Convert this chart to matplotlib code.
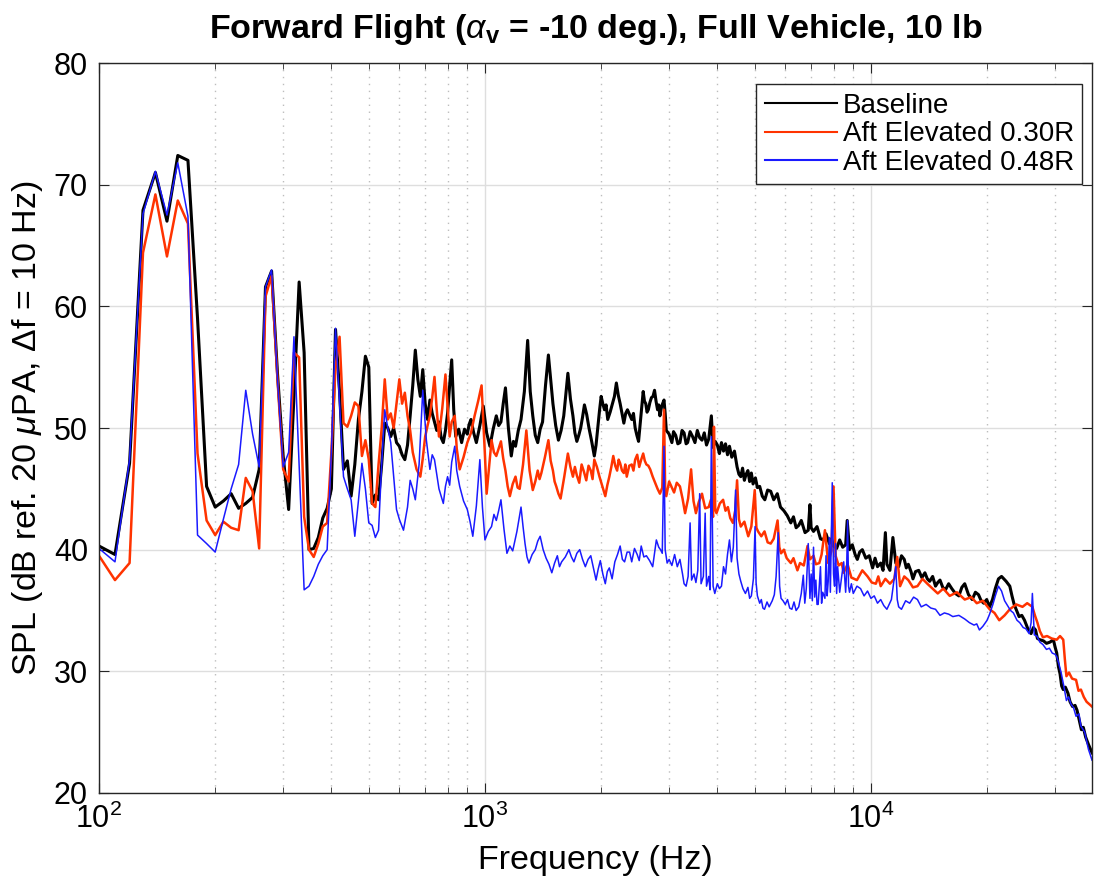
import numpy as np
import matplotlib as mpl
import matplotlib.pyplot as plt

mpl.rcParams['font.family'] = 'Liberation Sans'
mpl.rcParams['mathtext.fontset'] = 'custom'
mpl.rcParams['mathtext.rm'] = 'Liberation Sans'
mpl.rcParams['mathtext.it'] = 'Liberation Sans:italic'
mpl.rcParams['mathtext.bf'] = 'Liberation Sans:bold'
mpl.rcParams['axes.linewidth'] = 1.0

# narrowband spectra, (frequency Hz, SPL dB)
baseline = [
    (100, 40.3), (110, 39.6), (120, 47.1), (130, 67.9), (140, 71.0), (150, 67.0),
    (160, 72.4), (170, 72.0), (180, 59.0), (190, 45.2), (200, 43.5), (210, 44.0),
    (220, 44.6), (230, 43.4), (240, 43.8), (250, 44.3), (260, 46.6), (270, 61.6),
    (280, 62.9), (290, 54.5), (300, 47.7), (310, 43.3), (320, 52.6), (330, 62.0),
    (340, 56.2), (350, 40.0), (360, 40.1), (370, 41.0), (380, 42.6), (390, 43.4),
    (400, 45.0), (410, 58.1), (420, 53.0), (430, 46.6), (440, 47.3), (450, 44.4),
    (460, 47.0), (470, 50.7), (480, 53.0), (490, 55.9), (500, 55.0), (510, 43.8),
    (520, 44.5), (530, 44.1), (540, 47.0), (550, 50.4), (560, 50.0), (570, 49.3),
    (580, 50.0), (590, 48.8), (600, 48.5), (610, 47.8), (620, 47.4), (630, 48.6),
    (640, 51.0), (650, 53.5), (660, 56.4), (670, 54.0), (680, 52.6), (690, 54.8),
    (700, 52.0), (710, 50.7), (720, 52.3), (730, 51.2), (740, 50.5), (750, 49.8),
    (760, 50.5), (770, 49.2), (780, 48.8), (790, 49.8), (800, 51.2), (810, 53.5),
    (820, 55.6), (830, 51.5), (840, 49.3), (855, 49.9), (870, 48.8), (885, 49.9),
    (900, 49.5), (910, 50.3), (920, 50.7), (935, 49.6), (950, 48.8), (970, 50.2),
    (990, 51.8), (1010, 49.6), (1030, 48.5), (1050, 49.9), (1070, 51.0), (1085, 50.2),
    (1100, 50.5), (1115, 52.0), (1130, 53.3), (1150, 50.0), (1170, 47.7), (1185, 48.9),
    (1200, 48.5), (1220, 49.8), (1240, 50.7), (1265, 53.0), (1290, 57.2), (1310, 53.0),
    (1330, 51.0), (1350, 49.4), (1370, 48.8), (1390, 49.9), (1410, 50.5), (1435, 53.5),
    (1460, 56.0), (1480, 54.0), (1500, 52.0), (1525, 50.2), (1550, 49.0), (1575, 49.8),
    (1600, 51.0), (1620, 52.8), (1640, 54.5), (1665, 52.4), (1690, 51.0), (1710, 49.6),
    (1730, 48.9), (1750, 49.4), (1770, 50.0), (1790, 50.9), (1810, 51.9), (1835, 51.1),
    (1860, 50.0), (1890, 48.9), (1920, 47.7), (1940, 48.6), (1960, 50.0), (1980, 51.4),
    (2000, 52.6), (2020, 52.0), (2040, 51.5), (2060, 51.9), (2080, 50.7), (2110, 51.3),
    (2140, 52.0), (2165, 52.6), (2190, 53.7), (2215, 52.7), (2240, 52.0), (2265, 51.2),
    (2290, 50.4), (2315, 51.2), (2340, 51.5), (2370, 51.1), (2400, 50.7), (2425, 51.2),
    (2450, 50.0), (2475, 49.4), (2500, 48.9), (2535, 51.0), (2570, 53.0), (2590, 52.2),
    (2610, 52.0), (2630, 51.3), (2650, 51.5), (2675, 52.1), (2700, 52.5), (2725, 52.6),
    (2750, 53.1), (2775, 52.2), (2800, 51.5), (2820, 51.9), (2840, 51.0), (2870, 51.8),
    (2910, 52.3), (2930, 51.2), (2950, 49.8), (3000, 49.5), (3050, 48.8), (3080, 49.7),
    (3120, 49.4), (3160, 48.7), (3200, 48.8), (3240, 49.8), (3280, 49.6), (3320, 48.7),
    (3350, 48.8), (3400, 49.7), (3450, 49.3), (3500, 48.8), (3550, 49.8), (3600, 49.2),
    (3650, 49.0), (3700, 49.6), (3750, 48.6), (3800, 49.1), (3860, 51.0), (3900, 48.4),
    (3950, 48.9), (4000, 48.6), (4050, 47.9), (4100, 48.8), (4150, 48.1), (4200, 48.7),
    (4250, 47.8), (4300, 48.5), (4360, 47.6), (4430, 48.1), (4500, 46.8), (4550, 46.2),
    (4600, 46.0), (4650, 46.7), (4700, 45.7), (4750, 46.2), (4800, 46.5), (4850, 45.6),
    (4900, 46.3), (4950, 45.4), (5020, 45.9), (5080, 45.1), (5150, 45.2), (5230, 44.4),
    (5310, 44.1), (5400, 44.9), (5500, 44.8), (5600, 44.1), (5720, 44.6), (5830, 43.5),
    (5950, 43.2), (6070, 42.8), (6200, 42.2), (6300, 42.7), (6400, 41.8), (6500, 42.0),
    (6600, 42.4), (6750, 41.4), (6880, 41.6), (6950, 43.7), (7000, 41.8), (7100, 41.5),
    (7250, 41.9), (7400, 40.9), (7520, 40.8), (7650, 41.3), (7800, 40.5), (7900, 40.9),
    (8000, 40.3), (8150, 40.1), (8300, 40.8), (8450, 40.2), (8600, 40.4), (8680, 42.4),
    (8800, 40.0), (8950, 40.4), (9100, 39.6), (9220, 39.2), (9350, 39.8), (9500, 40.0),
    (9700, 39.3), (9900, 39.5), (10100, 38.5), (10250, 39.3), (10400, 38.6), (10600, 38.9),
    (10750, 38.3), (10900, 41.4), (11000, 38.8), (11200, 38.3), (11400, 41.0), (11600, 38.9),
    (11800, 38.6), (12000, 39.5), (12200, 39.2), (12350, 38.5), (12500, 38.8), (12700, 38.2),
    (12850, 37.6), (13050, 38.2), (13300, 38.3), (13550, 37.7), (13800, 38.1), (14000, 37.6),
    (14200, 37.4), (14450, 37.8), (14700, 37.0), (14900, 37.3), (15100, 37.5), (15350, 36.9),
    (15600, 36.7), (15900, 37.2), (16200, 36.8), (16550, 36.4), (16900, 36.2), (17200, 36.9),
    (17500, 37.2), (17900, 36.3), (18300, 35.9), (18650, 36.5), (19000, 36.3), (19300, 35.8),
    (19600, 35.6), (19950, 35.9), (20300, 35.3), (20650, 35.9), (21000, 36.8), (21400, 37.6),
    (21800, 37.8), (22100, 37.6), (22400, 37.4), (22900, 37.0), (23200, 36.2), (23500, 35.5),
    (23850, 35.0), (24200, 34.5), (24600, 34.6), (25000, 34.2), (25500, 33.5), (26000, 33.1),
    (26350, 33.6), (26700, 33.4), (27000, 32.7), (27400, 32.6), (28000, 32.5), (28500, 32.3),
    (29100, 32.4), (29700, 32.6), (30000, 32.0), (30300, 31.5), (30600, 30.4), (30900, 29.8),
    (31200, 28.8), (31500, 28.5), (31900, 28.7), (32400, 28.2), (32800, 27.5), (33300, 27.1),
    (33800, 27.2), (34200, 26.8), (34600, 26.1), (35100, 25.2), (35500, 25.4), (36000, 24.6),
    (36600, 24.0), (37400, 23.3),
]

elev_030 = [
    (100, 39.5), (110, 37.5), (120, 38.9), (130, 64.4), (140, 69.2), (150, 64.1),
    (160, 68.7), (170, 66.8), (180, 47.9), (190, 42.4), (200, 41.2), (210, 42.3),
    (220, 41.8), (230, 41.6), (240, 45.9), (250, 44.8), (260, 40.1), (270, 60.8),
    (280, 62.5), (290, 54.0), (300, 46.6), (310, 45.6), (320, 56.2), (330, 55.8),
    (340, 42.7), (350, 40.0), (360, 39.4), (370, 40.5), (380, 41.9), (390, 42.2),
    (400, 48.0), (410, 55.0), (420, 57.5), (430, 50.4), (440, 50.1), (450, 51.0),
    (460, 52.1), (470, 51.8), (480, 47.7), (490, 49.0), (500, 47.4), (510, 43.8),
    (520, 43.5), (530, 47.0), (540, 50.0), (550, 54.0), (560, 50.7), (570, 51.2),
    (580, 50.0), (590, 52.0), (600, 54.0), (610, 52.0), (620, 52.9), (630, 51.0),
    (640, 49.8), (650, 48.0), (665, 46.6), (680, 46.0), (690, 47.5), (700, 49.3),
    (710, 50.2), (720, 51.0), (730, 52.5), (740, 54.2), (750, 51.5), (760, 49.3),
    (775, 51.6), (790, 54.4), (800, 51.8), (810, 49.3), (820, 50.5), (835, 51.0),
    (845, 48.3), (860, 46.6), (880, 47.6), (900, 48.8), (920, 49.6), (940, 51.0),
    (960, 52.2), (980, 53.5), (1000, 47.7), (1010, 44.6), (1025, 46.8), (1040, 49.0),
    (1055, 48.0), (1070, 47.7), (1085, 48.3), (1100, 48.9), (1115, 47.5), (1130, 46.5),
    (1145, 45.2), (1160, 44.4), (1180, 45.4), (1200, 46.0), (1215, 45.1), (1230, 45.0),
    (1255, 47.0), (1280, 49.8), (1305, 46.5), (1330, 44.9), (1350, 45.6), (1370, 46.5),
    (1385, 45.8), (1400, 46.3), (1430, 47.6), (1460, 49.0), (1480, 47.3), (1500, 46.5),
    (1515, 45.6), (1530, 45.2), (1550, 44.6), (1570, 44.2), (1605, 46.0), (1640, 47.9),
    (1665, 46.8), (1690, 46.0), (1710, 46.8), (1730, 46.1), (1755, 45.5), (1780, 47.0),
    (1805, 46.4), (1830, 45.7), (1855, 46.9), (1880, 46.5), (1900, 45.8), (1920, 47.4),
    (1950, 46.8), (1980, 46.0), (2015, 45.2), (2050, 44.4), (2075, 45.3), (2100, 46.0),
    (2125, 46.8), (2150, 47.7), (2175, 46.9), (2200, 46.5), (2220, 47.4), (2240, 47.1),
    (2265, 46.5), (2290, 46.3), (2310, 47.0), (2330, 46.0), (2365, 46.9), (2400, 47.0),
    (2425, 46.5), (2450, 47.4), (2480, 47.8), (2510, 46.8), (2540, 47.4), (2570, 47.9),
    (2595, 47.3), (2620, 47.0), (2650, 46.9), (2680, 46.6), (2720, 46.0), (2760, 45.5),
    (2800, 45.0), (2840, 44.6), (2880, 45.1), (2910, 51.5), (2930, 45.0), (2950, 44.4),
    (3000, 45.6), (3040, 45.2), (3090, 44.7), (3140, 45.5), (3200, 45.2), (3250, 44.2),
    (3300, 43.0), (3360, 44.2), (3420, 46.6), (3470, 44.0), (3520, 43.0), (3580, 43.9),
    (3650, 44.6), (3720, 43.4), (3800, 43.5), (3850, 44.1), (3900, 42.7), (3920, 50.1),
    (3950, 43.3), (3980, 43.0), (4060, 43.8), (4140, 44.1), (4200, 43.2), (4260, 43.5),
    (4320, 42.6), (4390, 42.2), (4450, 43.2), (4500, 45.7), (4550, 42.5), (4600, 41.9),
    (4700, 42.3), (4810, 41.1), (4900, 41.9), (5000, 44.9), (5050, 41.8), (5100, 41.5),
    (5200, 41.1), (5300, 41.5), (5400, 40.6), (5500, 40.5), (5600, 40.9), (5730, 42.4),
    (5790, 40.2), (5850, 39.7), (5950, 40.0), (6050, 39.3), (6200, 38.9), (6300, 39.3),
    (6450, 38.3), (6550, 38.9), (6700, 38.7), (6850, 40.3), (6950, 39.2), (7100, 39.5),
    (7200, 38.8), (7350, 38.9), (7450, 39.6), (7600, 41.6), (7750, 38.9), (7900, 39.9),
    (8000, 45.2), (8100, 39.5), (8250, 38.7), (8400, 38.9), (8500, 38.1), (8700, 38.8),
    (8900, 37.7), (9200, 37.5), (9500, 38.3), (9800, 37.8), (10050, 37.3), (10300, 37.2),
    (10450, 37.8), (10600, 37.0), (10900, 37.6), (11200, 37.2), (11500, 37.6), (11700, 39.4),
    (11900, 37.0), (12200, 37.8), (12500, 37.5), (12850, 36.9), (13200, 37.0), (13600, 37.6),
    (14000, 37.2), (14450, 36.8), (14900, 36.4), (15400, 36.8), (16000, 36.2), (16700, 36.5),
    (17500, 35.9), (18200, 36.1), (18800, 35.6), (19500, 35.8), (20300, 35.1), (20900, 34.8),
    (21500, 34.2), (22200, 34.6), (22900, 35.1), (23800, 35.5), (24700, 35.3), (25400, 35.6),
    (26200, 35.3), (26600, 34.6), (27000, 34.0), (27400, 33.3), (27900, 32.8), (28600, 32.9),
    (29400, 32.7), (30300, 32.6), (30900, 32.9), (31500, 32.6), (31800, 31.0), (32100, 29.6),
    (32600, 29.9), (33200, 29.4), (34000, 29.3), (34500, 28.4), (35000, 28.5), (35600, 27.9),
    (36200, 27.5), (37400, 27.1),
]

elev_048 = [
    (100, 40.1), (110, 39.0), (120, 47.4), (130, 67.6), (140, 71.1), (150, 67.5),
    (160, 71.8), (170, 67.4), (180, 41.2), (190, 40.5), (200, 39.8), (210, 42.5),
    (220, 45.0), (230, 47.0), (240, 53.1), (250, 49.5), (260, 46.8), (270, 61.6),
    (280, 63.0), (290, 54.0), (300, 46.8), (310, 48.0), (320, 57.5), (330, 47.0),
    (340, 36.7), (350, 37.0), (360, 37.8), (370, 38.8), (380, 39.5), (390, 40.0),
    (400, 48.0), (410, 58.2), (420, 52.0), (430, 46.0), (440, 45.0), (450, 44.1),
    (460, 41.1), (470, 44.0), (480, 47.1), (490, 45.0), (500, 42.2), (510, 42.0),
    (520, 41.0), (530, 41.6), (540, 47.0), (550, 51.5), (560, 50.0), (570, 48.8),
    (580, 46.0), (590, 43.3), (600, 42.5), (615, 41.6), (630, 43.5), (640, 45.7),
    (650, 45.0), (660, 44.1), (675, 47.0), (690, 53.1), (705, 49.0), (720, 46.6),
    (730, 47.8), (740, 47.4), (750, 46.2), (760, 45.0), (770, 44.4), (780, 43.8),
    (790, 45.2), (800, 46.0), (810, 45.3), (820, 47.2), (835, 48.5), (845, 46.5),
    (860, 45.2), (880, 44.0), (900, 43.3), (915, 42.3), (930, 41.1), (950, 43.6),
    (970, 47.4), (985, 43.5), (1000, 40.8), (1020, 41.5), (1040, 41.9), (1055, 42.9),
    (1070, 42.4), (1085, 43.2), (1100, 44.1), (1120, 41.7), (1140, 39.7), (1160, 40.3),
    (1180, 39.9), (1210, 41.5), (1240, 43.5), (1255, 41.9), (1270, 40.5), (1285, 39.4),
    (1300, 38.9), (1325, 39.6), (1350, 40.0), (1370, 40.7), (1390, 41.1), (1415, 40.0),
    (1440, 39.3), (1465, 38.8), (1490, 38.1), (1515, 38.9), (1540, 39.5), (1560, 38.6),
    (1580, 39.0), (1615, 39.4), (1650, 40.0), (1675, 39.4), (1700, 39.0), (1730, 39.7),
    (1760, 40.0), (1790, 39.2), (1820, 38.6), (1850, 39.2), (1880, 39.5), (1910, 38.5),
    (1940, 37.5), (1965, 38.4), (1990, 39.1), (2020, 38.0), (2050, 37.2), (2075, 38.2),
    (2100, 38.5), (2135, 37.6), (2170, 39.0), (2205, 39.6), (2240, 40.3), (2270, 39.2),
    (2300, 39.0), (2335, 39.8), (2370, 39.8), (2400, 39.0), (2440, 40.1), (2480, 39.6),
    (2510, 39.1), (2540, 40.3), (2580, 39.4), (2620, 39.5), (2670, 39.1), (2720, 38.6),
    (2750, 39.7), (2780, 40.8), (2820, 40.2), (2850, 40.0), (2880, 39.7), (2910, 48.5),
    (2930, 40.0), (2965, 38.9), (3000, 39.2), (3050, 38.7), (3100, 39.6), (3150, 38.6),
    (3200, 39.2), (3250, 38.0), (3280, 37.2), (3320, 37.0), (3360, 37.8), (3400, 42.2),
    (3430, 37.5), (3480, 38.0), (3520, 37.3), (3560, 38.3), (3600, 44.6), (3630, 37.2),
    (3680, 37.8), (3720, 43.0), (3750, 37.0), (3800, 37.8), (3830, 36.7), (3860, 49.3),
    (3900, 37.0), (3940, 36.4), (4000, 37.2), (4050, 36.8), (4100, 37.0), (4150, 38.6),
    (4200, 38.0), (4250, 39.6), (4300, 40.8), (4350, 39.0), (4400, 40.2), (4460, 44.9),
    (4500, 39.3), (4550, 38.0), (4600, 37.4), (4660, 36.8), (4730, 36.4), (4800, 36.9),
    (4850, 36.0), (4900, 36.2), (4960, 37.6), (5010, 41.9), (5040, 37.3), (5080, 36.2),
    (5150, 35.6), (5200, 35.9), (5250, 35.2), (5300, 35.1), (5380, 35.7), (5450, 35.3),
    (5550, 35.8), (5620, 36.3), (5680, 37.8), (5750, 41.4), (5800, 37.0), (5850, 36.0),
    (5920, 35.8), (6000, 35.5), (6080, 35.9), (6160, 35.2), (6240, 35.1), (6320, 35.7),
    (6400, 35.0), (6500, 35.3), (6600, 36.4), (6680, 37.9), (6740, 35.6), (6800, 36.8),
    (6880, 40.5), (6950, 36.0), (7000, 38.0), (7050, 35.8), (7100, 40.2), (7150, 36.1),
    (7200, 37.5), (7250, 35.5), (7300, 35.5), (7400, 38.6), (7450, 35.6), (7500, 36.5),
    (7600, 36.0), (7650, 39.5), (7700, 36.2), (7750, 37.4), (7800, 41.0), (7850, 36.5),
    (7940, 45.5), (8000, 38.0), (8050, 37.0), (8100, 40.5), (8150, 36.4), (8200, 38.6),
    (8300, 36.5), (8400, 37.8), (8500, 39.0), (8600, 36.5), (8650, 38.2), (8700, 42.4),
    (8750, 37.0), (8800, 36.5), (8900, 37.2), (9000, 36.4), (9200, 37.0), (9400, 36.8),
    (9600, 36.2), (9800, 36.6), (10000, 36.0), (10200, 36.2), (10400, 35.6), (10600, 35.9),
    (10800, 35.4), (11000, 35.1), (11300, 35.9), (11600, 38.6), (11700, 35.9), (11800, 35.3),
    (12000, 35.1), (12300, 35.8), (12600, 35.6), (12900, 36.1), (13200, 35.9), (13500, 35.3),
    (13900, 35.5), (14300, 35.2), (14700, 35.1), (15100, 34.6), (15500, 34.8), (15900, 34.7),
    (16300, 34.5), (16900, 34.6), (17500, 34.3), (18000, 34.0), (18500, 33.8), (18800, 33.9),
    (19100, 33.4), (19500, 33.7), (20000, 34.2), (20300, 34.7), (20700, 35.5), (21000, 36.2),
    (21400, 37.0), (21800, 36.6), (22200, 35.8), (22600, 35.4), (23000, 35.0), (23400, 34.8),
    (23900, 34.2), (24300, 34.0), (24800, 33.6), (25200, 33.5), (25700, 33.1), (26000, 34.0),
    (26200, 36.4), (26400, 34.0), (26500, 33.0), (26900, 32.9), (27400, 32.4), (27900, 32.2),
    (28500, 31.8), (29000, 31.9), (29500, 31.5), (30000, 31.4), (30300, 31.2), (30700, 30.6),
    (31100, 29.9), (31600, 28.8), (32100, 27.6), (32500, 27.9), (33000, 27.3), (33500, 27.0),
    (34000, 26.3), (34600, 26.5), (35000, 25.5), (35800, 25.0), (36600, 23.6), (37400, 22.7),
]

labels = ['Baseline', 'Aft Elevated 0.30R', 'Aft Elevated 0.48R']
colors = ['black', '#ff3300', '#1a1aff']
widths = [2.2, 1.8, 1.1]

fig = plt.figure(figsize=(10.94, 8.9), dpi=100)
ax = fig.add_axes([0.0905, 0.109, 0.9077, 0.8202])

for data, lab, c, lw in zip([baseline, elev_030, elev_048], labels, colors, widths):
    f, spl = np.array(data).T
    ax.plot(f, spl, color=c, lw=lw, label=lab)

ax.set_xscale('log')
ax.set_xlim(100, 37400)
ax.set_ylim(20, 80)
ax.set_yticks(np.arange(20, 81, 10))

ax.grid(which='major', color='#dedede', lw=1.0, ls='-')
ax.grid(which='minor', axis='x', color='#bdbdbd', lw=1.0, ls=(0, (1, 4)))
ax.set_axisbelow(True)
ax.tick_params(which='both', direction='in', top=True, right=True,
               labelsize=22, color='#262626', pad=8)
ax.tick_params(which='major', length=7)
ax.tick_params(which='minor', length=4)
for s in ax.spines.values():
    s.set_color('#262626')

ax.set_xlabel('Frequency (Hz)', fontsize=24.5, labelpad=7)
ax.set_ylabel(r'SPL (dB ref. 20 $\mu$PA, $\Delta$f = 10 Hz)', fontsize=24.5, labelpad=6)
ax.set_title(r'Forward Flight ($\alpha_\mathbf{v}$ = -10 deg.), Full Vehicle, 10 lb',
             fontsize=24.5, fontweight='bold', pad=18)

leg = ax.legend(loc='upper right', bbox_to_anchor=(0.99, 0.971), borderaxespad=0,
                fontsize=20, fancybox=False, framealpha=1, edgecolor='#262626',
                labelspacing=0.1, borderpad=0.3, handlelength=2.6, handletextpad=0.2)
leg.get_frame().set_linewidth(1.0)
for h in leg.get_lines():
    h.set_linewidth(1.5)

fig.savefig('out.png', dpi=100)
